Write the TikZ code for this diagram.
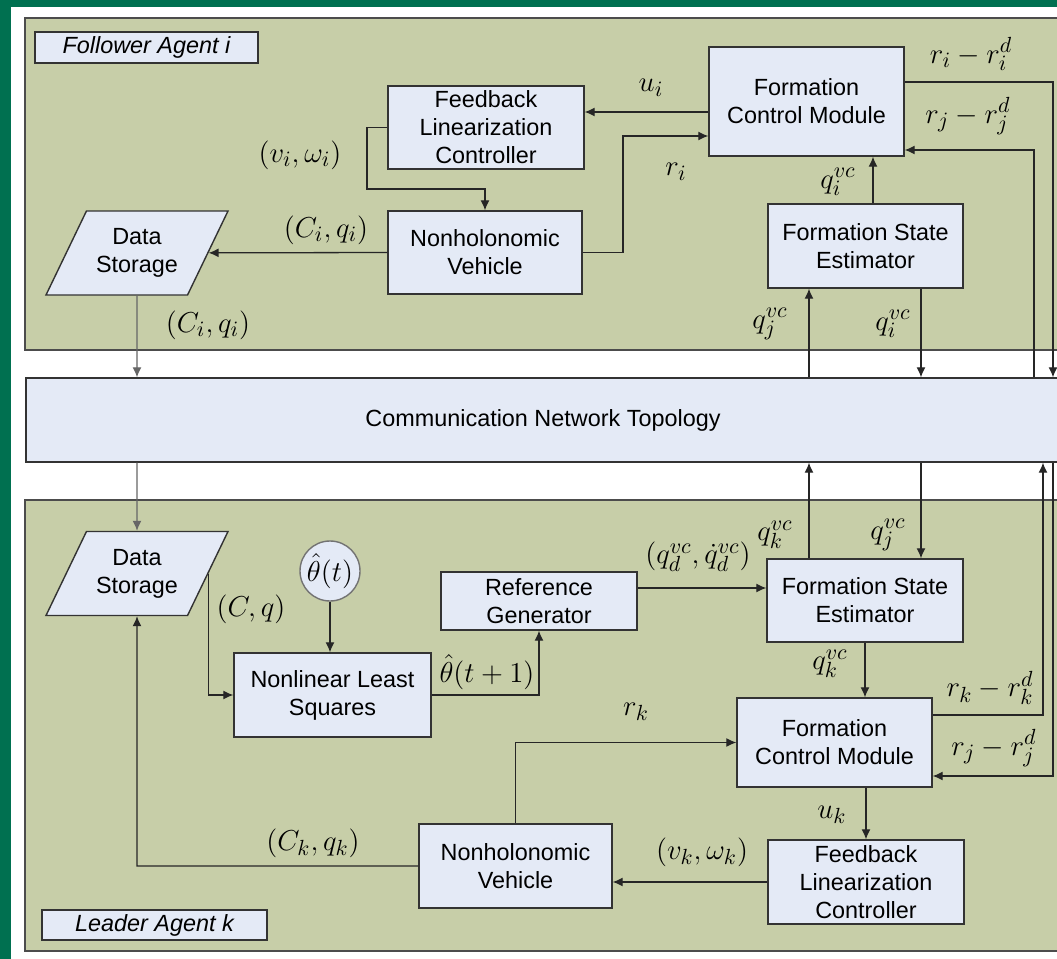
\documentclass[tikz,border=0pt]{standalone}
\usepackage{fontspec}
\setsansfont{Liberation Sans}
\usetikzlibrary{arrows.meta,shapes.geometric}

\definecolor{bggreen}{RGB}{0,112,80}
\definecolor{panel}{RGB}{199,206,168}
\definecolor{boxblue}{RGB}{228,234,246}

\tikzset{
  blk/.style={draw=black!80, fill=boxblue, line width=0.7pt, align=center, inner sep=0pt,
    font=\sffamily\fontsize{11.7}{14}\selectfont},
  store/.style={blk, trapezium, trapezium left angle=64, trapezium right angle=116,
    trapezium stretches body=true, inner xsep=0pt, inner ysep=8.5pt,
    minimum width=91pt, minimum height=42pt},
  circ/.style={circle, draw=black!55, fill=boxblue, line width=0.7pt, minimum size=30pt,
    inner sep=0pt, font=\fontsize{15.3}{18}\selectfont},
  tag/.style={draw=black!80, fill=boxblue, line width=0.7pt, inner sep=0pt,
    font=\sffamily\itshape\fontsize{11.7}{14}\selectfont},
  lbl/.style={inner sep=0pt, font=\fontsize{15.3}{18}\selectfont},
  flow/.style={->, line width=0.65pt, draw=black!85},
  >={Latex[length=5pt,width=4.5pt]}
}

\begin{document}
\begin{tikzpicture}[x=0.5pt, y=-0.5pt]
    % page and background
    \useasboundingbox (0,0) rectangle (1057,959);
    \fill[bggreen] (0,0) rectangle (1057,959);
    \fill[white] (11,7) rectangle (1060,962);

    % agent panels
    \draw[fill=panel, draw=black!70, line width=0.75pt] (25,18) rectangle (1064,350);
    \draw[fill=panel, draw=black!70, line width=0.75pt] (25,500) rectangle (1064,951);
    \node[tag, minimum width=111.5pt, minimum height=15.5pt] (ftag) at (146.5,47.5) {Follower Agent i};
    \node[tag, minimum width=112.5pt, minimum height=15pt] (ltag) at (154.5,925) {Leader Agent k};

    % follower agent i
    \node[blk, minimum width=98pt, minimum height=41.5pt] (flci) at (486,127.5) {Feedback\\Linearization\\Controller};
    \node[blk, minimum width=97pt, minimum height=41.5pt] (nvi) at (485,252.5) {Nonholonomic\\Vehicle};
    \node[blk, minimum width=97.5pt, minimum height=54.5pt] (fcmi) at (806.5,101.5) {Formation\\Control Module};
    \node[blk, minimum width=97.5pt, minimum height=42pt] (fsei) at (865.5,246) {Formation State\\Estimator};
    \node[store] (dsi) at (137,253) {Data\\Storage};

    % network
    \node[blk, minimum width=517pt, minimum height=42pt] (net) at (543,420) {Communication Network Topology};

    % leader agent k
    \node[store] (dsk) at (137,573.5) {Data\\Storage};
    \node[circ] (theta) at (330,571) {$\hat\theta(t)$};
    \node[blk, minimum width=98.5pt, minimum height=42pt] (nlls) at (332.5,695) {Nonlinear Least\\Squares};
    \node[blk, minimum width=98pt, minimum height=29pt] (rg) at (539,601) {Reference\\Generator};
    \node[blk, minimum width=98pt, minimum height=41.5pt] (fsek) at (865,600.5) {Formation State\\Estimator};
    \node[blk, minimum width=97.5pt, minimum height=44.5pt] (fcmk) at (834.5,742.5) {Formation\\Control Module};
    \node[blk, minimum width=98pt, minimum height=42pt] (flck) at (866,882) {Feedback\\Linearization\\Controller};
    \node[blk, minimum width=96.5pt, minimum height=42pt] (nvk) at (515.5,866) {Nonholonomic\\Vehicle};

    % connectors, follower
    \draw[flow] ([yshift=-5.25pt]fcmi.west) -- ([yshift=-5.25pt]fcmi.west -| flci.east);
    \draw[flow] (flci.west) -| (367,189) -| (nvi.north);
    \draw[flow] (nvi.east) -| (623,136) -- (fcmi.west |- 623,136);
    \draw[flow] (nvi.west) -- (dsi);
    \draw[flow] ([xshift=3.75pt]fsei.north) -- ([xshift=3.75pt]fsei.north |- fcmi.south);
    \draw[flow] ([yshift=9.75pt]fcmi.east) -| (net.north -| 1053,0);
    \draw[flow] (net.north -| 1034,0) |- ([yshift=-24.25pt]fcmi.east);
    \draw[flow] (net.north -| 809,0) -- (fsei.south -| 809,0);
    \draw[flow] (fsei.south -| 921,0) -- (net.north -| 921,0);
    \draw[flow, draw=black!60] (dsi) -- (dsi |- net.north);

    % connectors, leader
    \draw[flow, draw=black!60] (dsk |- net.south) -- (dsk);
    \draw[flow] (dsk.right side) |- (nlls.west);
    \draw[flow] (theta) -- (theta |- nlls.north);
    \draw[flow] (nlls.east) -| (rg.south);
    \draw[flow] ([yshift=6.5pt]rg.east) -- ([yshift=6.5pt]rg.east -| fsek.west);
    \draw[flow] (fsek.north -| 809,0) -- (net.south -| 809,0);
    \draw[flow] (net.south -| 921,0) -- (fsek.north -| 921,0);
    \draw[flow] (fsek.south) -- (fsek.south |- fcmk.north);
    \draw[flow] ([yshift=13.75pt]fcmk.east) -| (net.south -| 1043,0);
    \draw[flow] (net.south -| 1053,0) |- ([yshift=-16.75pt]fcmk.east);
    \draw[flow] (flck.north |- fcmk.south) -- (flck.north);
    \draw[flow] (flck.west) -- (flck.west -| nvk.east);
    \draw[flow] (nvk.north) |- (fcmk.west);
    \coordinate (ck) at (dsk |- nvk.west);
    \draw[flow] (nvk.west) -- (ck) -- (dsk);

    % labels, follower
    \node[lbl] (lui) at (651,88) {$u_i$};
    \node[lbl] (lvwi) at (300,155) {$(v_i,\omega_i)$};
    \node[lbl] (lri) at (676,172) {$r_i$};
    \node[lbl] (lcqi) at (326,230) {$(C_i,q_i)$};
    \node[lbl] (lqi) at (838,182) {$q_i^{vc}$};
    \node[lbl] (leri) at (971,54) {$r_i-r_i^d$};
    \node[lbl] (lerj) at (968,116) {$r_j-r_j^d$};
    \node[lbl] (lqjn) at (770,324) {$q_j^{vc}$};
    \node[lbl] (lqin) at (893,324) {$q_i^{vc}$};
    \node[lbl] (lcqn) at (208,325) {$(C_i,q_i)$};

    % labels, leader
    \node[lbl] (lcq) at (251,609) {$(C,q)$};
    \node[lbl] (lth) at (487,672) {$\hat\theta(t+1)$};
    \node[lbl] (lqd) at (698,557) {$(q_d^{vc},\dot q_d^{vc})$};
    \node[lbl] (lqkn) at (775,535) {$q_k^{vc}$};
    \node[lbl] (lqjk) at (888,535) {$q_j^{vc}$};
    \node[lbl] (lqk) at (830,664) {$q_k^{vc}$};
    \node[lbl] (lerk) at (990,688) {$r_k-r_k^d$};
    \node[lbl] (lerjk) at (994,748) {$r_j-r_j^d$};
    \node[lbl] (luk) at (832,815) {$u_k$};
    \node[lbl] (lvwk) at (702,852) {$(v_k,\omega_k)$};
    \node[lbl] (lrk) at (636,712) {$r_k$};
    \node[lbl] (lcqk) at (313,843) {$(C_k,q_k)$};

\end{tikzpicture}
\end{document}
